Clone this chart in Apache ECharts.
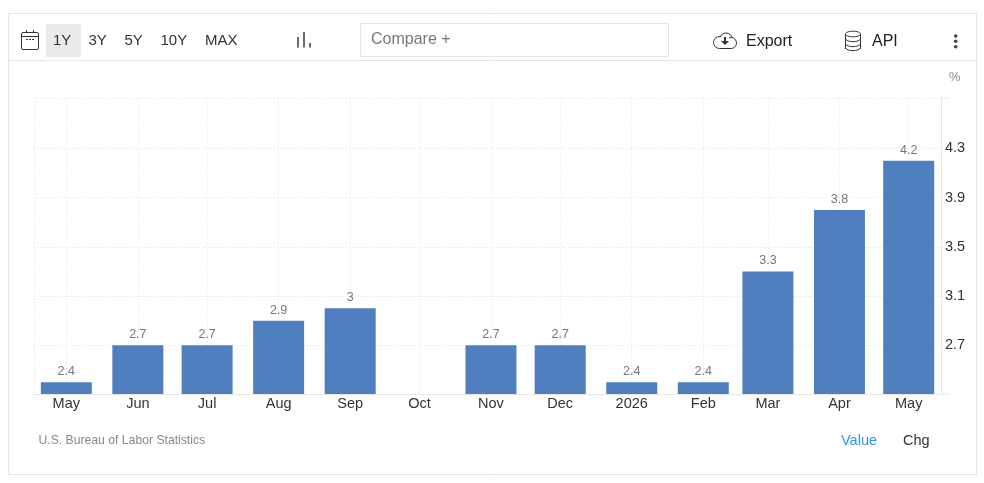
<!DOCTYPE html>
<html><head><meta charset="utf-8">
<style>html,body{margin:0;padding:0;background:#fff}#c{width:984px;height:483px}</style>
<script src="https://cdn.jsdelivr.net/npm/echarts@6/dist/echarts.min.js"></script>
</head><body><div id="c"></div>
<script>
const dates = ['2025-05-01','2025-06-01','2025-07-01','2025-08-01','2025-09-01','2025-10-01','2025-11-01','2025-12-01','2026-01-01','2026-02-01','2026-03-01','2026-04-01','2026-05-01'];
const monthLabels = ['May','Jun','Jul','Aug','Sep','Oct','Nov','Dec','2026','Feb','Mar','Apr','May'];
const values = [2.4,2.7,2.7,2.9,3,null,2.7,2.7,2.4,2.4,3.3,3.8,4.2];
const yTicks = [2.7,3.1,3.5,3.9,4.3];
const yMin = 2.304, yMax = 4.709;
const xMin = '2025-04-17', xMax = '2026-05-15';
const rangeButtons = ['1Y','3Y','5Y','10Y','MAX'];

const t = s => new Date(s + 'T00:00:00Z').getTime();
const FONT = '"Liberation Sans", Arial, sans-serif';
const txt = (text,x,y,size,fill,extra) => ({type:'text',x,y,silent:true,style:Object.assign({text,fontSize:size,fontFamily:FONT,fill,verticalAlign:'middle'},extra||{})});
const line = (x1,y1,x2,y2,stroke,lw) => ({type:'line',silent:true,shape:{x1,y1,x2,y2},style:{stroke,lineWidth:lw||1,fill:null}});
const rect = (x,y,width,height,style) => ({type:'rect',silent:true,shape:{x,y,width,height},style});
const ICON='#333';
const arc = (cx,cy,r,a,b) => ({type:'arc',silent:true,shape:{cx,cy,r,startAngle:a*Math.PI/180,endAngle:b*Math.PI/180,clockwise:true},style:{stroke:ICON,lineWidth:1,fill:null}});
const sag = (y) => ({type:'bezierCurve',silent:true,shape:{x1:845.5,y1:y,x2:860.5,y2:y,cpx1:847,cpy1:y+3.5,cpx2:859,cpy2:y+3.5},style:{stroke:ICON,lineWidth:1,fill:null}});
const graphics = [
  rect(8.5,13.5,968,461,{fill:'none',stroke:'#e6e6ea',lineWidth:1}),
  line(9,60.5,976,60.5,'#e8e8e8'),
  rect(46,24,35,33,{fill:'#ebe9ea'}),
  {type:'rect',silent:true,shape:{x:21.5,y:32.5,width:17,height:17,r:1.5},style:{fill:'none',stroke:ICON,lineWidth:1}},
  line(21.5,36.5,38.5,36.5,ICON), line(26.5,30,26.5,33,ICON), line(33.5,30,33.5,33,ICON),
  line(26,39.5,28,39.5,ICON), line(29,39.5,31,39.5,ICON), line(32,39.5,34,39.5,ICON),
  line(298,37,298,47.5,'#444',1.6), line(304,32,304,47.5,'#444',1.6), line(310,43,310,47.5,'#444',1.6),
  rect(360.5,23.5,308,33,{fill:'#fff',stroke:'#e3e5de',lineWidth:1}),
  txt('Compare +',371,39.5,16,'#777'),
  arc(719.5,42.5,6,90,285), arc(726,39.5,6.5,200,340), arc(731,43,5.5,250,450),
  line(719.5,48.5,731,48.5,ICON),
  line(725,37,725,42,ICON,2),
  {type:'polygon',silent:true,shape:{points:[[721,41],[729,41],[725,45]]},style:{fill:ICON}},
  txt('Export',746,41.5,16,'#222'),
  {type:'ellipse',silent:true,shape:{cx:853,cy:34,rx:7.5,ry:2.8},style:{fill:'none',stroke:ICON,lineWidth:1}},
  line(845.5,34,845.5,49,ICON), line(860.5,34,860.5,49,ICON),
  sag(39), sag(44), sag(48),
  txt('API',872,41.5,16,'#222'),
  {type:'circle',silent:true,shape:{cx:955.7,cy:36,r:1.8},style:{fill:'#444'}},
  {type:'circle',silent:true,shape:{cx:955.7,cy:41.3,r:1.8},style:{fill:'#444'}},
  {type:'circle',silent:true,shape:{cx:955.7,cy:46.7,r:1.8},style:{fill:'#444'}},
  txt('%',949,77.5,13,'#888'),
  line(941,98,950,98,'#e6e6e6'),
  line(941,394,950,394,'#e6e6e6'),
  txt('U.S. Bureau of Labor Statistics',38.5,440.5,12.2,'#888'),
  txt('Value',841,441,14.5,'#2e93f5'),
  txt('Chg',903,441,14.5,'#333')
];
const btnX = [53,88.5,124.5,160.5,205];
rangeButtons.forEach((b,i)=>graphics.push(txt(b,btnX[i],40.5,15,'#333')));

const chart = echarts.init(document.getElementById('c'));
chart.setOption({
  animation:false,
  backgroundColor:'#fff',
  textStyle:{fontFamily:FONT},
  grid:{left:34,right:43,top:98,bottom:89},
  xAxis:{
    type:'value',min:t(xMin),max:t(xMax),scale:true,
    axisLine:{show:true,onZero:false,lineStyle:{color:'#e6e6e6',width:1}},
    axisTick:{show:false,customValues:[t(xMin)].concat(dates.map(t),[t(xMax)])},
    splitLine:{show:true,lineStyle:{color:'#e4e4e4',type:[1,2],width:1}},
    axisLabel:{
      customValues:dates.map(t),hideOverlap:false,
      color:'#333',fontSize:14.5,fontFamily:FONT,margin:2,
      formatter:v=>{const i=dates.map(t).indexOf(+v);return i>=0?monthLabels[i]:'';}
    }
  },
  yAxis:{
    type:'value',position:'right',min:yMin,max:yMax,
    axisLine:{show:true,lineStyle:{color:'#e6e6e6',width:1}},
    axisTick:{show:false,customValues:yTicks.concat([yMax])},
    splitLine:{show:true,lineStyle:{color:'#e4e4e4',type:[1,2],width:1}},
    axisLabel:{customValues:yTicks,color:'#333',fontSize:14.5,fontFamily:FONT,margin:4,formatter:v=>Number(v).toFixed(1)}
  },
  series:[{
    type:'bar',barWidth:51,
    data:dates.map((d,i)=>[t(d),values[i]]),
    itemStyle:{color:'#4f7fbe'},
    label:{show:true,position:'top',distance:4,color:'#777',fontSize:12.5,fontFamily:FONT,formatter:p=>p.value[1]==null?'':String(p.value[1])}
  }],
  graphic:{elements:graphics}
});
</script></body></html>
